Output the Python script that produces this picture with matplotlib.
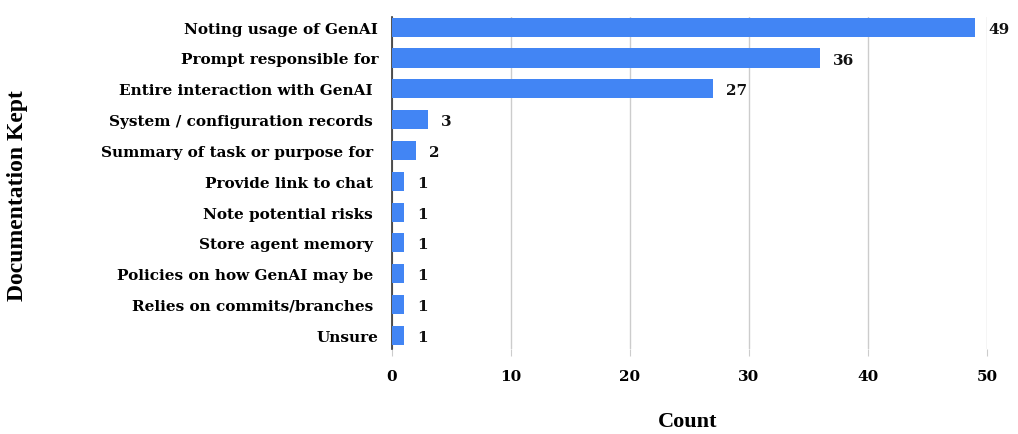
import matplotlib.pyplot as plt

# documentation kept by respondents
categories = [
    'Noting usage of GenAI',
    'Prompt responsible for',
    'Entire interaction with GenAI ',
    'System / configuration records ',
    'Summary of task or purpose for ',
    'Provide link to chat ',
    'Note potential risks ',
    'Store agent memory ',
    'Policies on how GenAI may be ',
    'Relies on commits/branches ',
    'Unsure',
]
counts = [49, 36, 27, 3, 2, 1, 1, 1, 1, 1, 1]
xticks = [0, 10, 20, 30, 40, 50]

serif = ['DejaVu Serif']
plt.rcParams['font.family'] = serif
plt.rcParams['font.weight'] = 'bold'

fig = plt.figure(figsize=(10.18, 4.35), dpi=100)
ax = fig.add_axes([0.385, 0.195, 0.5845, 0.7636])

pos = list(range(len(categories)))
ax.barh(pos, counts, height=0.62, color='#4285f4', zorder=3)

# value labels right of each bar
for y, v in zip(pos, counts):
    ax.text(v + 1.1, y + 0.05, str(v), va='center', ha='left',
            fontsize=11, fontweight='bold', color='#111111')

ax.set_xlim(0, 50)
ax.set_ylim(10.45, -0.33)
ax.set_yticks(pos)
ax.set_yticklabels(categories, fontsize=11, fontweight='bold')
ax.set_xticks(xticks)
ax.set_xticklabels([str(t) for t in xticks], fontsize=11, fontweight='bold')

ax.grid(axis='x', color='#cccccc', linewidth=1, zorder=0)
ax.tick_params(axis='y', length=0, pad=10)
ax.tick_params(axis='x', length=5, color='#cccccc', pad=9)
for side in ['top', 'right', 'bottom']:
    ax.spines[side].set_visible(False)
ax.spines['left'].set_color('#333333')
ax.spines['left'].set_linewidth(1.2)

fig.text(0.675, 0.03, 'Count', ha='center', va='center',
         fontsize=16, fontweight='bold', family=['Liberation Serif'])
fig.text(0.017, 0.55, 'Documentation Kept', ha='center', va='center',
         rotation=90, fontsize=17, fontweight='bold', family=['Liberation Serif'])

fig.savefig('out.png', dpi=100)
